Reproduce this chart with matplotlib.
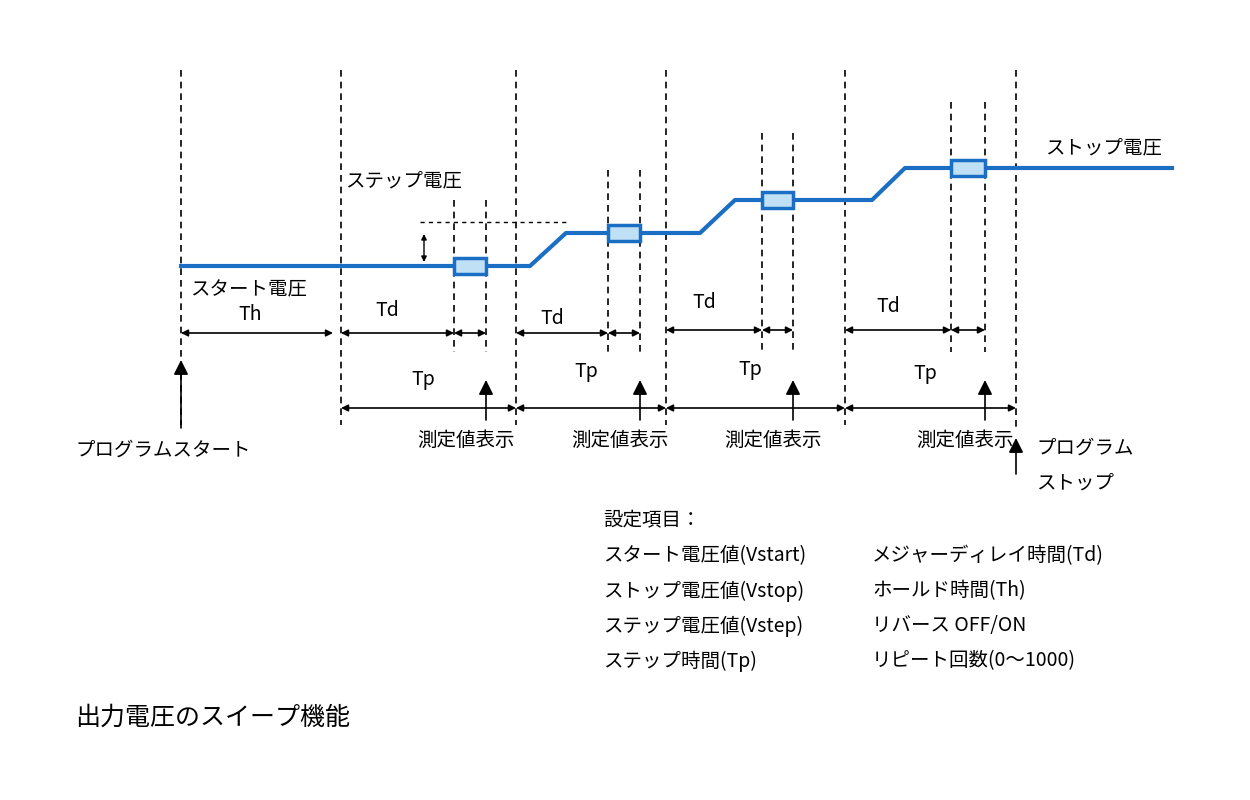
import matplotlib
matplotlib.use("Agg")
import matplotlib.pyplot as plt

FONT = "Noto Sans CJK JP"
plt.rcParams["font.family"] = FONT

# data (pixel-space diagram)
phase_x = [181, 341, 516, 666, 845, 1016]
win_left = [454, 608, 762, 951]
win_right = [486, 640, 793, 985]
win_top = [200, 170, 133, 102]
levels = [266, 233, 200, 168]
ramp_start = [530, 700, 872]
ramp_end = [566, 735, 905]
td_y = [333, 333, 330, 330]
td_label_y = [311, 318, 302, 306]
tp_label_y = [380, 372, 369, 374]
labels_meas = "測定値表示"

fig = plt.figure(figsize=(12.5, 8), dpi=100)
ax = fig.add_axes([0, 0, 1, 1])
ax.set_xlim(0, 1250); ax.set_ylim(800, 0); ax.axis("off")
blue = "#1a6fc4"
fs = 14

for x in phase_x:
    ax.plot([x, x], [70, 425 if x != 1016 else 430], ls=(0, (4, 3)), color="black", lw=1.2)
for l, r, t in zip(win_left, win_right, win_top):
    for x in (l, r):
        ax.plot([x, x], [t, 352], ls=(0, (4, 3)), color="black", lw=1.2)

# voltage line
xs = [phase_x[0]]; ys = [levels[0]]
for i in range(3):
    xs += [ramp_start[i], ramp_end[i]]; ys += [levels[i], levels[i + 1]]
xs.append(1172); ys.append(levels[3])
ax.plot(xs, ys, color=blue, lw=3, zorder=2)

for l, r, lev in zip(win_left, win_right, levels):
    ax.add_patch(plt.Rectangle((l, lev - 8), r - l, 16, facecolor="#bfe0f5", edgecolor=blue, lw=2.5, zorder=3))

def darrow(x1, x2, y):
    ax.annotate("", xy=(x1, y), xytext=(x2, y), arrowprops=dict(arrowstyle="<|-|>", color="black", lw=1.2, mutation_scale=10, shrinkA=0, shrinkB=0))

darrow(181, 333, 333)
for i in range(4):
    darrow(phase_x[i + 1], win_left[i], td_y[i])
    darrow(win_left[i], win_right[i], td_y[i])
    darrow(phase_x[i + 1], phase_x[i + 2], 408)
    ax.text((phase_x[i + 1] + win_left[i]) / 2 - 10, td_label_y[i], "Td", fontsize=fs, ha="center", va="center")
    ax.text((phase_x[i + 1] + phase_x[i + 2]) / 2 - 5, tp_label_y[i], "Tp", fontsize=fs, ha="center", va="center")
    ax.annotate("", xy=(win_right[i], 380), xytext=(win_right[i], 420), arrowprops=dict(arrowstyle="-|>", color="black", lw=1.2, mutation_scale=22, shrinkA=0, shrinkB=0))
    ax.text(win_right[i] - 20, 440, labels_meas, fontsize=fs, ha="center", va="center")
ax.text(250, 315, "Th", fontsize=fs, ha="center", va="center")

ax.annotate("", xy=(181, 360), xytext=(181, 428), arrowprops=dict(arrowstyle="-|>", color="black", lw=1.2, mutation_scale=22, shrinkA=0, shrinkB=0))
ax.annotate("", xy=(1016, 438), xytext=(1016, 474), arrowprops=dict(arrowstyle="-|>", color="black", lw=1.2, mutation_scale=22, shrinkA=0, shrinkB=0))
ax.annotate("", xy=(424, 234), xytext=(424, 262), arrowprops=dict(arrowstyle="<|-|>", color="black", lw=1, mutation_scale=8, shrinkA=0, shrinkB=0))
ax.plot([420, 570], [222, 222], ls=(0, (3, 3)), color="black", lw=1)

ax.text(75, 450, "プログラムスタート", fontsize=fs, va="center")
ax.text(1036, 448, "プログラム", fontsize=fs, va="center")
ax.text(1036, 483, "ストップ", fontsize=fs, va="center")
ax.text(345, 181, "ステップ電圧", fontsize=fs, va="center")
ax.text(190, 290, "スタート電圧", fontsize=fs, va="center")
ax.text(1045, 148, "ストップ電圧", fontsize=fs, va="center")

ax.text(603, 521, "設定項目：", fontsize=fs, va="center")
left_items = ["スタート電圧値(Vstart)", "ストップ電圧値(Vstop)", "ステップ電圧値(Vstep)", "ステップ時間(Tp)"]
right_items = ["メジャーディレイ時間(Td)", "ホールド時間(Th)", "リバース OFF/ON", "リピート回数(0～1000)"]
for i, (a, b) in enumerate(zip(left_items, right_items)):
    ax.text(603, 556 + 35 * i, a, fontsize=fs, va="center")
    ax.text(872, 556 + 35 * i, b, fontsize=fs, va="center")
ax.text(75, 718, "出力電圧のスイープ機能", fontsize=18, va="center")

fig.savefig("out.png", dpi=100)
